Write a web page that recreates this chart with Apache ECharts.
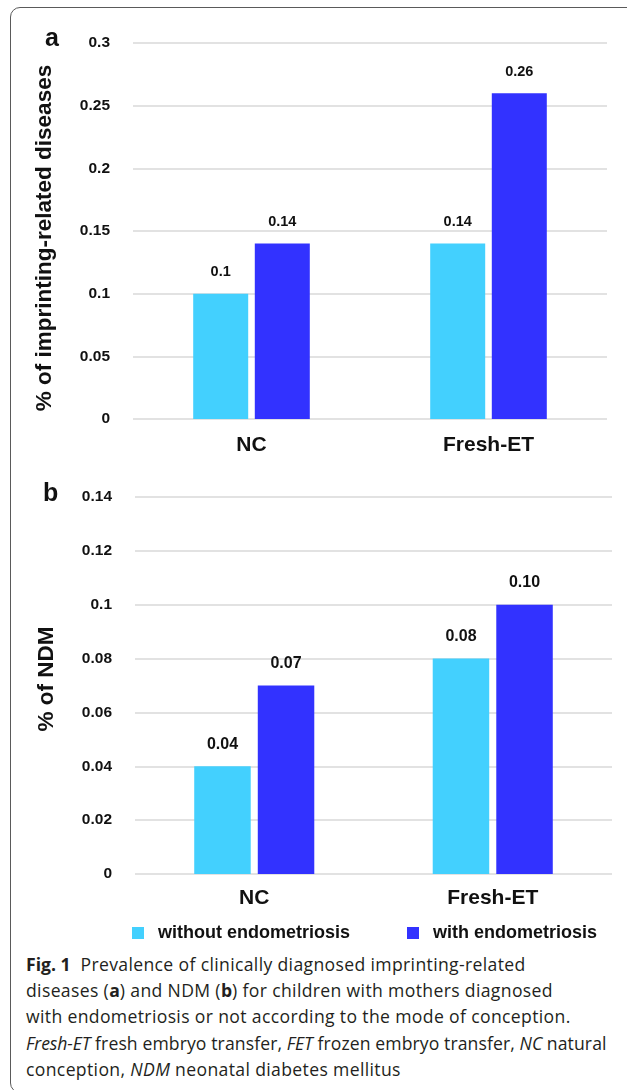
<!DOCTYPE html>
<html>
<head>
<meta charset="utf-8">
<script src="https://cdn.jsdelivr.net/npm/echarts@6/dist/echarts.min.js"></script>
<style>
  html, body { margin: 0; padding: 0; background: #fff; }
  body { width: 627px; height: 1090px; position: relative; overflow: hidden; }
  #frame { position: absolute; left: 10px; top: 7px; width: 640px; height: 1086px;
           border: 1.5px solid #5a5a5a; border-radius: 10px; box-sizing: border-box; }
  #chart { position: absolute; left: 0; top: 0; width: 627px; height: 950px; }
  #caption { position: absolute; left: 26px; top: 951px; width: 595px;
             font-family: "Open Sans", "Noto Sans", sans-serif; font-size: 17.6px;
             letter-spacing: 0.35px;
             line-height: 26.2px; color: #231f20; white-space: nowrap; }
  #caption b { font-weight: 700; letter-spacing: 0; }
  #caption .tight { letter-spacing: 0.1px; }
  #caption .tight i { letter-spacing: -0.1px; }
</style>
</head>
<body>
<div id="frame"></div>
<div id="chart"></div>
<div id="caption">
<b>Fig. 1</b>&nbsp; Prevalence of clinically diagnosed imprinting-related<br>
diseases (<b>a</b>) and NDM (<b>b</b>) for children with mothers diagnosed<br>
with endometriosis or not according to the mode of conception.<br>
<span class="tight"><i>Fresh-ET</i> fresh embryo transfer, <i>FET</i> frozen embryo transfer, <i>NC</i> natural</span><br>
conception, <i>NDM</i> neonatal diabetes mellitus
</div>
<script>
// ---- data ----
const categories = ['NC', 'Fresh-ET'];
const seriesNames = ['without endometriosis', 'with endometriosis'];
const imprintWithout = [0.1, 0.14];
const imprintWith = [0.14, 0.26];
const ndmWithout = [0.04, 0.08];
const ndmWith = [0.07, 0.10];
const ticksA = [0, 0.05, 0.1, 0.15, 0.2, 0.25, 0.3];
const ticksB = [0, 0.02, 0.04, 0.06, 0.08, 0.1, 0.12, 0.14];
const titleA = '% of imprinting-related diseases';
const titleB = '% of NDM';
const panelLetters = ['a', 'b'];

// ---- styles ----
const FONT = '"Liberation Sans", Arial, sans-serif';
const LIGHT = '#43D0FE';
const DARK = '#3232FF';
const GRIDLINE = '#d9d9d9';

const chart = echarts.init(document.getElementById('chart'), null, { renderer: 'canvas' });

function yAxisCfg(ticks, gridIndex, name, pad) {
  return {
    type: 'value', gridIndex: gridIndex,
    min: ticks[0], max: ticks[ticks.length - 1], interval: ticks[1] - ticks[0],
    axisLine: { show: false }, axisTick: { show: false },
    splitLine: { lineStyle: { color: GRIDLINE, width: 1.5 } },
    axisLabel: { color: '#111', fontFamily: FONT, fontWeight: 'bold', fontSize: 15.5, margin: 23,
                 formatter: v => String(+v.toFixed(4)) },
    name: name, nameLocation: 'middle', nameGap: 77,
    nameTextStyle: { color: '#111', fontFamily: FONT, fontWeight: 'bold', fontSize: 22.5, padding: pad }
  };
}
function xAxisCfg(gridIndex, margin) {
  return {
    type: 'category', gridIndex: gridIndex, data: categories,
    axisLine: { show: false }, axisTick: { show: false },
    axisLabel: { color: '#111', fontFamily: FONT, fontWeight: 'bold', fontSize: 21, margin: margin }
  };
}
function barSeries(name, data, idx, color, bw, gap, fmt, lblSize) {
  return {
    type: 'bar', name: name, data: data, xAxisIndex: idx, yAxisIndex: idx,
    barWidth: bw, barGap: gap,
    itemStyle: { color: color },
    label: { show: true, position: 'top', distance: 14, color: '#111', fontFamily: FONT,
             fontWeight: 'bold', fontSize: lblSize, formatter: fmt },
    emphasis: { disabled: true }
  };
}

const fmtA = p => String(p.value);
const fmtB = p => p.value.toFixed(2);

chart.setOption({
  animation: false,
  grid: [
    { left: 133, top: 43, width: 474, height: 376 },
    { left: 135, top: 497, width: 477, height: 377 }
  ],
  xAxis: [xAxisCfg(0, 16), xAxisCfg(1, 14)],
  yAxis: [yAxisCfg(ticksA, 0, titleA, [0, 14, 0, 0]), yAxisCfg(ticksB, 1, titleB, [0, 0, 0, 13])],
  legend: {
    data: seriesNames, left: 127, top: 919, icon: 'rect', itemWidth: 12, itemHeight: 12, itemGap: 57,
    textStyle: { color: '#111', fontFamily: FONT, fontWeight: 'bold', fontSize: 18, padding: [0, 0, 0, 9] },
    selectedMode: false
  },
  graphic: [
    { type: 'text', left: 45, top: 27, style: { text: panelLetters[0], fill: '#111', font: 'bold 25px ' + FONT } },
    { type: 'text', left: 43, top: 482, style: { text: panelLetters[1], fill: '#111', font: 'bold 25px ' + FONT } }
  ],
  series: [
    barSeries(seriesNames[0], imprintWithout, 0, LIGHT, 55, '12%', fmtA, 14.5),
    barSeries(seriesNames[1], imprintWith, 0, DARK, 55, '12%', fmtA, 14.5),
    barSeries(seriesNames[0], ndmWithout, 1, LIGHT, 56.5, '12.5%', fmtB, 16),
    barSeries(seriesNames[1], ndmWith, 1, DARK, 56.5, '12.5%', fmtB, 16)
  ]
});
</script>
</body>
</html>
